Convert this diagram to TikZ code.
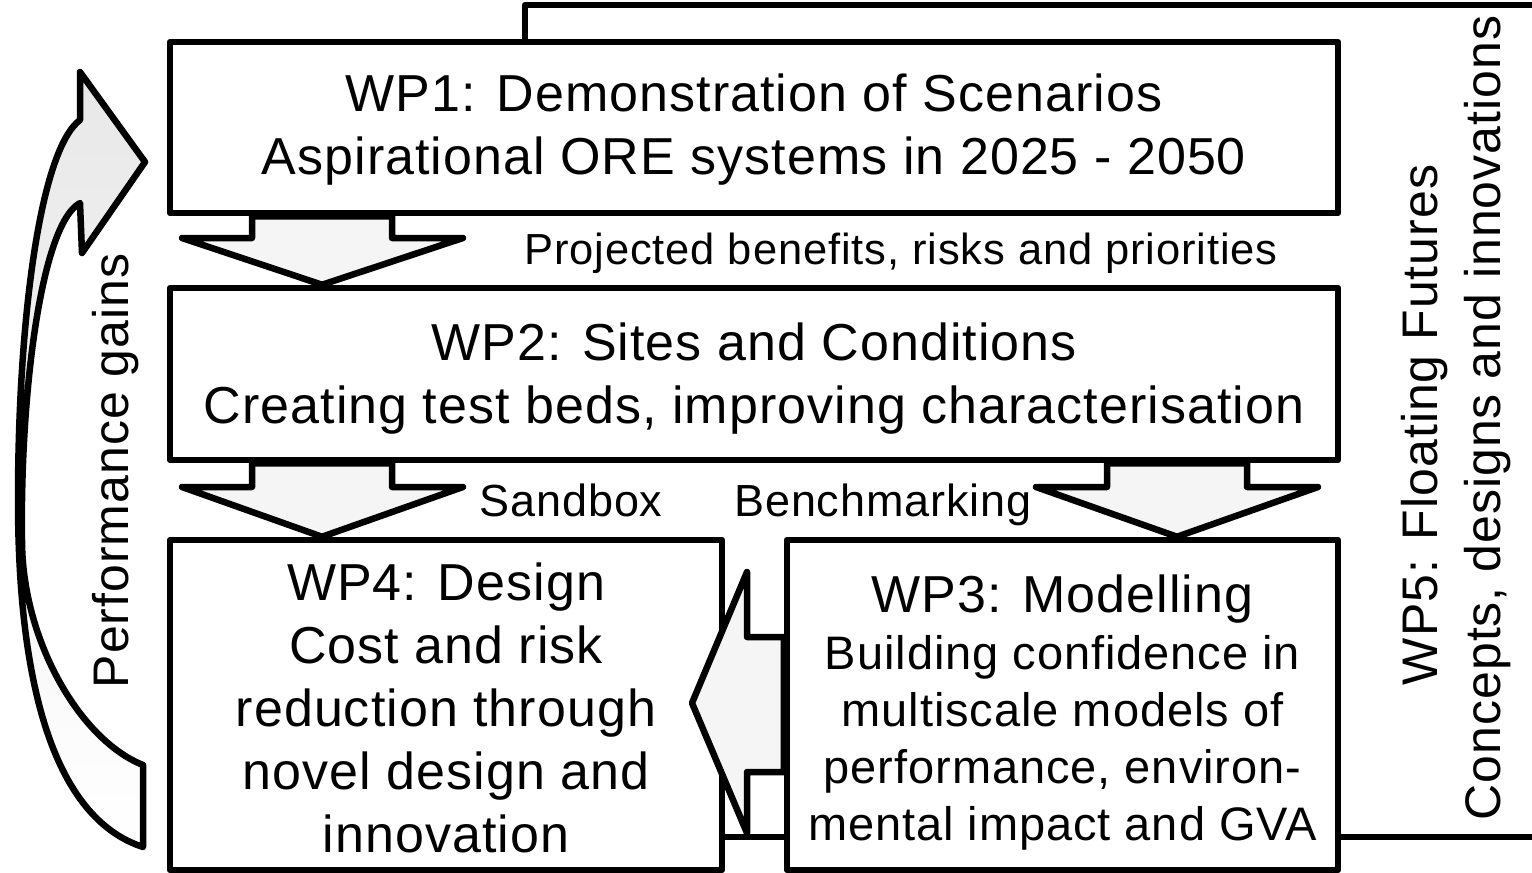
\documentclass[tikz,border=0pt]{standalone}
\usepackage{fontspec}
\setmainfont{Liberation Sans}[LetterSpace=2]
\usetikzlibrary{positioning,calc}

\newcommand{\wpfont}{\fontsize{52}{63}\selectfont}
\newcommand{\subfont}{\fontsize{47}{57}\selectfont}
\newcommand{\labfont}{\fontsize{45}{54}\selectfont}
\newcommand{\sidefont}{\fontsize{50}{60}\selectfont}

\begin{document}
\begin{tikzpicture}[x=1pt,y=-1pt,
    wpbox/.style={draw,line width=6.5pt,fill=white,line join=round,inner sep=0pt},
    wptext/.style={align=center,font=\wpfont,inner sep=0pt},
    flowlab/.style={font=\labfont,anchor=base,inner sep=0pt},
    sidetext/.style={font=\sidefont,rotate=90,anchor=base,inner sep=0pt},
    blockarrow/.style={draw,line width=6.5pt,fill=gray!8,line join=round},
    wpline/.style={line width=6.5pt,line join=round}]
  \useasboundingbox (0,0) rectangle (1532,873);

  % work package boxes
  \node[wpbox,minimum width=1168,minimum height=171] (wp1) at (754,127.5) {};
  \node[wpbox,minimum width=1168,minimum height=172] (wp2) at (754,374) {};
  \node[wpbox,minimum width=552,minimum height=330] (wp4) at (446,705) {};
  \node[wpbox,minimum width=551,minimum height=330] (wp3) at (1062.5,705) {};

  % WP5 frame round the others
  \draw[wpline] (wp1.north -| 525,0) -- (525,5) -- (1532,5);
  \draw[wpline] (wp3.east |- 0,837) -- (1532,837);
  \draw[wpline] (wp4.east |- 0,837) -- (wp3.west |- 0,837);

  % block arrows between the boxes
  \draw[blockarrow] (252,0 |- wp1.south) -- (252,238) -- (182,238) -- (322,0 |- wp2.north)
    -- (463,238) -- (392,238) -- (392,0 |- wp1.south) -- cycle;
  \draw[blockarrow] (252,0 |- wp2.south) -- (252,487) -- (182,487) -- (322,0 |- wp4.north)
    -- (463,487) -- (392,487) -- (392,0 |- wp2.south) -- cycle;
  \draw[blockarrow] (1107,0 |- wp2.south) -- (1107,487) -- (1036,487) -- (1177,0 |- wp3.north)
    -- (1318,487) -- (1247,487) -- (1247,0 |- wp2.south) -- cycle;
  \draw[blockarrow] (wp3.west |- 0,637) -- (747,637) -- (747,572) -- (692,703)
    -- (747,833) -- (747,772) -- (wp3.west |- 0,772) -- cycle;

  % curved arrow back up to WP1
  \draw[wpline,top color=gray!18,bottom color=white]
    (143,847) .. controls (60,820) and (18,700) .. (18,500)
    .. controls (18,320) and (40,150) .. (80,120) -- (80,72) -- (145,162)
    -- (82,253) -- (80,203) .. controls (40,225) and (20,400) .. (22,540)
    .. controls (22,640) and (80,740) .. (143,765) -- cycle;

  % texts
  \node[wptext] (wp1txt) at ([yshift=-2]wp1.center)
    {WP1: Demonstration of Scenarios\\Aspirational ORE systems in 2025 - 2050};
  \node[wptext] (wp2txt) at ([yshift=-5]wp2.center)
    {WP2: Sites and Conditions\\Creating test beds, improving characterisation};
  \node[wptext] (wp4txt) at ([yshift=-3]wp4.center)
    {WP4: Design\\Cost and risk\\reduction through\\novel design and\\innovation};
  \node[wptext,font=\subfont] (wp3txt) at ([yshift=-8]wp3.center)
    {{\wpfont WP3: Modelling}\\Building confidence in\\multiscale models of\\performance, environ-\\mental impact and GVA};

  \node[flowlab,font=\fontsize{43.5}{52}\selectfont] (proj) at (901,264) {Projected benefits, risks and priorities};
  \node[flowlab] (sandbox) at (571,516) {Sandbox};
  \node[flowlab] (bench) at (883,516) {Benchmarking};

  \node[sidetext] (perf) at (128,471) {Performance gains};
  \node[sidetext] (wp5a) at (1437,425) {WP5: Floating Futures};
  \node[sidetext] (wp5b) at (1500,418) {Concepts, designs and innovations};
\end{tikzpicture}
\end{document}
